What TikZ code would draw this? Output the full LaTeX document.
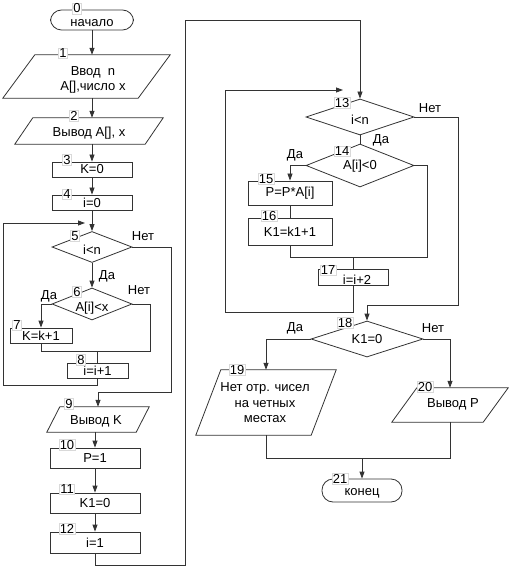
\documentclass[tikz,border=0pt]{standalone}
\usepackage{fontspec}
\setmainfont{Liberation Sans}
\usetikzlibrary{shapes.geometric,arrows.meta,calc}
\newcommand\fsmain{\fontsize{13}{15.5}\selectfont}
\newcommand\fsnum{\fontsize{13}{13}\selectfont}
\newcommand\iopath[2]{\draw[shp] ([xshift=#2]#1.north west) -- (#1.north east) -- ([xshift=-#2]#1.south east) -- (#1.south west) -- cycle;}
\begin{document}
\begin{tikzpicture}[x=1pt,y=-1pt,
  shp/.style={draw=black!80, line width=0.8pt},
  ln/.style={draw=black!80, line width=0.8pt},
  arr/.style={ln, -{Triangle[length=7pt,width=5pt]}},
  blk/.style={shp, rectangle, inner sep=0pt, font=\fsmain},
  term/.style={shp, rectangle, rounded corners=11pt, inner sep=0pt, font=\fsmain},
  dia/.style={shp, diamond, inner sep=0pt, font=\fsmain},
  io/.style={rectangle, inner sep=0pt},
  txt/.style={inner sep=0pt, font=\fsmain, align=center},
  num/.style={fill=white, draw=black!15, line width=0.4pt, inner sep=0.8pt, font=\fsnum},
  yn/.style={inner sep=0pt, font=\fsmain}]
\useasboundingbox (0,0) rectangle (512,569);

% ---- left column
\node[term, minimum width=83pt, minimum height=20pt] (T0) at (92,20) {};
\node[txt] (tT0) at (92,23.5) {начало};
\node[io, minimum width=167pt, minimum height=43pt] (P1) at (86.5,76.5) {};
\iopath{P1}{32pt}
\node[txt] (tP1) at (93,80) {Ввод~~n\\A[],число x};
\node[io, minimum width=148pt, minimum height=26pt] (P2) at (89,131) {};
\iopath{P2}{18pt}
\node[txt] (tP2) at (89,133) {Вывод A[], x};
\node[blk, minimum width=80pt, minimum height=15pt] (B3) at (92,169.5) {K=0};
\node[blk, minimum width=80pt, minimum height=15pt] (B4) at (92,202.5) {i=0};
\node[dia, minimum width=80pt, minimum height=31pt] (D5) at (92,247) {};
\node[txt] (tD5) at (92,250) {i<n};
\node[dia, minimum width=80pt, minimum height=32pt] (D6) at (92,304) {};
\node[txt] (tD6) at (92,308) {A[i]<x};
\node[blk, minimum width=62pt, minimum height=15pt] (B7) at (41,335.5) {K=k+1};
\node[blk, minimum width=61pt, minimum height=15pt] (B8) at (97.5,370.5) {i=i+1};
\node[io, minimum width=102pt, minimum height=25pt] (P9) at (98,419.5) {};
\iopath{P9}{13pt}
\node[txt] (tP9) at (96,421) {Вывод K};
\node[blk, minimum width=90pt, minimum height=20pt] (B10) at (95,458) {P=1};
\node[blk, minimum width=90pt, minimum height=20pt] (B11) at (95,503) {K1=0};
\node[blk, minimum width=90pt, minimum height=21pt] (B12) at (95,542.5) {i=1};

% ---- right column
\node[dia, minimum width=108pt, minimum height=36pt] (D13) at (360,117) {};
\node[txt] (tD13) at (360,120) {i<n};
\node[dia, minimum width=108pt, minimum height=43pt] (D14) at (360,165.5) {};
\node[txt] (tD14) at (360,166) {A[i]<0};
\node[blk, minimum width=84pt, minimum height=24pt] (B15) at (290,193) {P=P*A[i]};
\node[blk, minimum width=84pt, minimum height=27pt] (B16) at (290,231.5) {K1=k1+1};
\node[blk, minimum width=70pt, minimum height=16pt] (B17) at (353,277) {};
\node[txt] (tB17) at (357,280) {i=i+2};
\node[dia, minimum width=112pt, minimum height=36pt] (D18) at (367,339) {};
\node[txt] (tD18) at (367,339) {K1=0};
\node[io, minimum width=140pt, minimum height=65pt] (P19) at (266,402.5) {};
\iopath{P19}{25pt}
\node[txt] (tP19) at (265,403) {Нет отр. чисел\\на четных\\местах};
\node[io, minimum width=116pt, minimum height=34pt] (P20) at (450,405) {};
\iopath{P20}{25pt}
\node[txt] (tP20) at (453,404) {Вывод P};
\node[term, minimum width=80pt, minimum height=23pt] (T21) at (362,490.5) {};
\node[txt] (tT21) at (362,493) {конец};

% ---- coordinates
\coordinate (l1a) at (98,385);
\coordinate (l1c) at (3,223);
\coordinate (l1d) at (85,223);
\coordinate (c6r) at (150,351);
\coordinate (c5) at (171,392);
\coordinate (g1) at (185,565);
\coordinate (g2) at (185,20);
\coordinate (m1) at (225,312);
\coordinate (m2) at (343,90);
\coordinate (n1) at (458,305);
\coordinate (k1) at (427,257);
\coordinate (j1) at (363,458);

% ---- connectors left
\draw[arr] (T0.south) -- (T0.south |- P1.north);
\draw[arr] (T0.south |- P1.south) -- (T0.south |- P2.north);
\draw[arr] (B3.north |- P2.south) -- (B3.north);
\draw[arr] (B3.south) -- (B4.north);
\draw[arr] (B4.south) -- (D5.north);
\draw[arr] (B8.south) -- (B8.south |- l1a) -| (l1c) -- (l1d);
\draw[arr] (D5.south) -- (D6.north);
\draw[arr] (D6.west) -| (B7.north);
\draw[ln] (D6.east) -| (c6r) -- (B7.south |- c6r) -- (B7.south);
\draw[ln] (B8.north |- c6r) -- (B8.north);
\draw[arr] (D5.east) -| (c5) -| (P9.north);
\draw[arr] (B10.north |- P9.south) -- (B10.north);
\draw[arr] (B10.south) -- (B11.north);
\draw[arr] (B11.south) -- (B12.north);
\draw[arr] (B12.south) |- (g1) -- (g2) -| (D13.north);

% ---- connectors right
\draw[arr] (B17.south) |- (m1) |- (m2);
\draw[arr] (D13.east) -| (n1) -| (D18.north);
\draw[ln] (D13.south) -- (D14.north);
\draw[arr] (D14.west) -| (B15.north);
\draw[ln] (B15.south) -- (B16.north);
\draw[ln] (D14.east) -| (k1) -- (B16.south |- k1) -- (B16.south);
\draw[ln] (B17.north |- k1) -- (B17.north);
\draw[arr] (D18.west) -| (P19.north);
\draw[arr] (D18.east) -| (P20.north);
\draw[ln] (P19.south) |- (P20.south |- j1) -- (P20.south);
\draw[arr] (T21.north |- j1) -- (T21.north);

% ---- yes/no labels
\node[yn] (y5n) at (143,236) {Нет};
\node[yn] (y5y) at (107,276) {Да};
\node[yn] (y6y) at (49,296) {Да};
\node[yn] (y6n) at (139,290) {Нет};
\node[yn] (y13n) at (430,108) {Нет};
\node[yn] (y13y) at (381,140) {Да};
\node[yn] (y14y) at (295,155) {Да};
\node[yn] (y18y) at (295,328) {Да};
\node[yn] (y18n) at (433,328) {Нет};

% ---- number labels
\node[num] (n0) at (77,8.5) {0};
\node[num] (n1l) at (63,53) {1};
\node[num] (n2) at (74,116) {2};
\node[num] (n3) at (67,160) {3};
\node[num] (n4) at (67,194) {4};
\node[num] (n5) at (75,236) {5};
\node[num] (n6) at (77,292) {6};
\node[num] (n7) at (17,325) {7};
\node[num] (n8) at (81,360) {8};
\node[num] (n9) at (69,404) {9};
\node[num] (n10) at (67,445) {10};
\node[num] (n11) at (67,489) {11};
\node[num] (n12) at (67,529) {12};
\node[num] (n13) at (342,103) {13};
\node[num] (n14) at (342,151) {14};
\node[num] (n15) at (266,179) {15};
\node[num] (n16) at (269,216) {16};
\node[num] (n17) at (328,270) {17};
\node[num] (n18) at (345,323) {18};
\node[num] (n19) at (237,370) {19};
\node[num] (n20) at (425,387) {20};
\node[num] (n21) at (340,479) {21};
\end{tikzpicture}
\end{document}
